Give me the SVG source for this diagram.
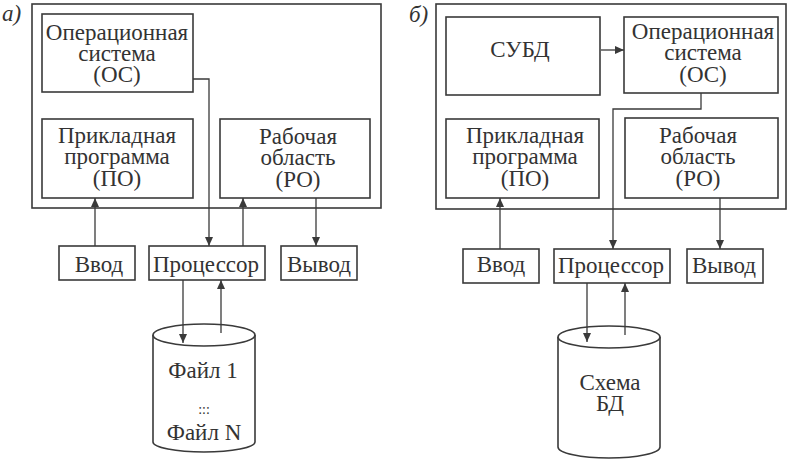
<svg xmlns="http://www.w3.org/2000/svg" width="790" height="461" viewBox="0 0 790 461">
<style>
.b{fill:#fff;stroke:#3a3a3a;stroke-width:1.6}
.c{fill:none;stroke:#3a3a3a;stroke-width:1.3}
.a{marker-end:url(#ah)}
.t{font-size:23px;fill:#333;text-anchor:middle}
.lbl{font-size:23px;fill:#333;font-style:italic;text-anchor:start}
</style>
<defs>
<marker id="ah" viewBox="0 0 9 8" refX="9" refY="4" markerWidth="9" markerHeight="8" markerUnits="userSpaceOnUse" orient="auto">
<path d="M0,0 L9,4 L0,8 z" fill="#3a3a3a"/>
</marker>
</defs>
<rect width="790" height="461" fill="#fff"/>
<g font-family="Liberation Serif, Times New Roman, serif">
<text class="lbl" x="2" y="21">а)</text>
<text class="lbl" x="409" y="22">б)</text>

<g id="frameA"><rect class="b" x="32" y="4" width="349" height="204"/></g>
<g id="frameB"><rect class="b" x="436" y="4" width="350" height="205"/></g>

<g id="osA"><rect class="b" x="42" y="14" width="151" height="78"/>
<text class="t" x="117" y="40">Операционная</text>
<text class="t" x="117" y="61">система</text>
<text class="t" x="117" y="82">(ОС)</text></g>
<g id="poA"><rect class="b" x="42" y="119" width="151" height="79"/>
<text class="t" x="117" y="143">Прикладная</text>
<text class="t" x="117" y="164">программа</text>
<text class="t" x="117" y="186">(ПО)</text></g>
<g id="roA"><rect class="b" x="220" y="119" width="150" height="79"/>
<text class="t" x="298" y="144">Рабочая</text>
<text class="t" x="298" y="165">область</text>
<text class="t" x="298" y="187">(РО)</text></g>
<g id="inA"><rect class="b" x="59" y="246" width="76" height="34"/>
<text class="t" x="99" y="272">Ввод</text></g>
<g id="cpuA"><rect class="b" x="149" y="246" width="116" height="34"/>
<text class="t" x="206" y="272">Процессор</text></g>
<g id="outA"><rect class="b" x="281" y="246" width="76" height="34"/>
<text class="t" x="319" y="272">Вывод</text></g>
<g id="dbA">
<path class="b" d="M153,335 L153,442 A51,10 0 0 0 255,442 L255,335"/>
<ellipse class="b" cx="204" cy="335" rx="51" ry="11"/>
<text class="t" x="203" y="378">Файл 1</text>
<text class="t" x="204" y="414" style="font-size:14px">:::</text>
<text class="t" x="204" y="440">Файл N</text>
</g>

<g id="dbmsB"><rect class="b" x="446" y="17" width="154" height="78"/>
<text class="t" x="520" y="57">СУБД</text></g>
<g id="osB"><rect class="b" x="624" y="17" width="154" height="76"/>
<text class="t" x="703" y="39">Операционная</text>
<text class="t" x="703" y="60">система</text>
<text class="t" x="703" y="82">(ОС)</text></g>
<g id="poB"><rect class="b" x="446" y="119" width="153" height="79"/>
<text class="t" x="525" y="143">Прикладная</text>
<text class="t" x="525" y="164">программа</text>
<text class="t" x="525" y="186">(ПО)</text></g>
<g id="roB"><rect class="b" x="625" y="118" width="153" height="80"/>
<text class="t" x="698" y="143">Рабочая</text>
<text class="t" x="698" y="164">область</text>
<text class="t" x="698" y="186">(РО)</text></g>
<g id="inB"><rect class="b" x="463" y="249" width="76" height="34"/>
<text class="t" x="501" y="272">Ввод</text></g>
<g id="cpuB"><rect class="b" x="554" y="249" width="116" height="34"/>
<text class="t" x="611" y="273">Процессор</text></g>
<g id="outB"><rect class="b" x="687" y="249" width="76" height="34"/>
<text class="t" x="724" y="273">Вывод</text></g>
<g id="dbB">
<path class="b" d="M558,337 L558,447 A51,11 0 0 0 660,447 L660,337"/>
<ellipse class="b" cx="609" cy="337" rx="51" ry="11"/>
<text class="t" x="610" y="390">Схема</text>
<text class="t" x="610" y="411">БД</text>
</g>
</g>

<g id="connectors">
<polyline class="c a" points="193,79 209,79 209,246"/>
<line class="c a" x1="95" y1="246" x2="95" y2="198"/>
<line class="c a" x1="243" y1="246" x2="243" y2="198"/>
<line class="c a" x1="316" y1="198" x2="316" y2="246"/>
<line class="c a" x1="183" y1="280" x2="183" y2="343"/>
<line class="c a" x1="221" y1="333" x2="221" y2="280"/>
<line class="c a" x1="601" y1="50" x2="624" y2="50"/>
<polyline class="c a" points="701,93 701,109 613,109 613,249"/>
<line class="c a" x1="500" y1="249" x2="500" y2="198"/>
<line class="c a" x1="720" y1="198" x2="720" y2="249"/>
<line class="c a" x1="587" y1="283" x2="587" y2="342"/>
<line class="c a" x1="625" y1="335" x2="625" y2="283"/>
</g>
</svg>
